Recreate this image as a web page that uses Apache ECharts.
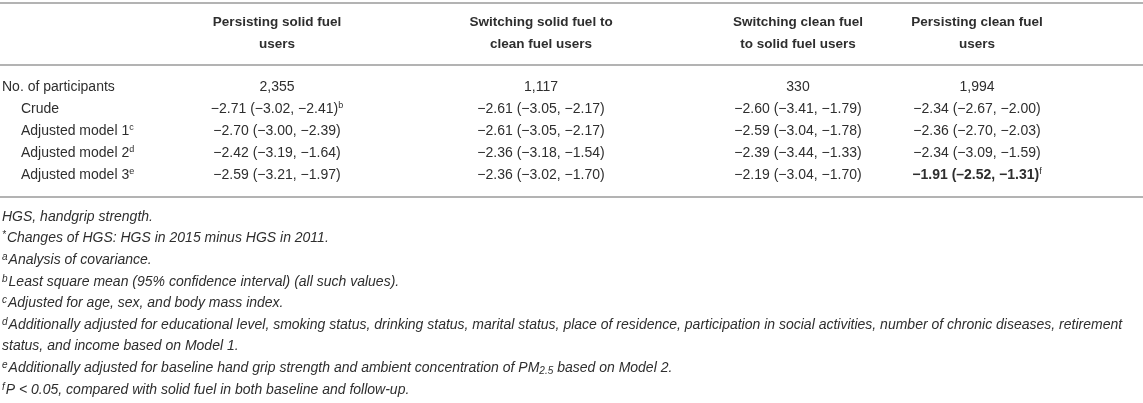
<!DOCTYPE html>
<html style="height: 100%">
<head>
  <meta charset="UTF-8">
  <title>HGS changes table</title>
  <script src="https://cdn.jsdelivr.net/npm/echarts/dist/echarts.min.js"></script>
</head>
<body style="height: 100%; margin: 0; background: #fff">
<div id="main" style="width: 1143px; height: 403px"></div>

<script>
  // table content
  const headerLines = [
    ['Persisting solid fuel', 'users'],
    ['Switching solid fuel to', 'clean fuel users'],
    ['Switching clean fuel', 'to solid fuel users'],
    ['Persisting clean fuel', 'users']
  ];
  const participants = [2355, 1117, 330, 1994];
  const rowLabels = ['Crude', 'Adjusted model 1', 'Adjusted model 2', 'Adjusted model 3'];
  const rowLabelSup = ['', 'c', 'd', 'e'];
  // [mean, lower, upper] per group
  const crude = [[-2.71, -3.02, -2.41], [-2.61, -3.05, -2.17], [-2.60, -3.41, -1.79], [-2.34, -2.67, -2.00]];
  const model1 = [[-2.70, -3.00, -2.39], [-2.61, -3.05, -2.17], [-2.59, -3.04, -1.78], [-2.36, -2.70, -2.03]];
  const model2 = [[-2.42, -3.19, -1.64], [-2.36, -3.18, -1.54], [-2.39, -3.44, -1.33], [-2.34, -3.09, -1.59]];
  const model3 = [[-2.59, -3.21, -1.97], [-2.36, -3.02, -1.70], [-2.19, -3.04, -1.70], [-1.91, -2.52, -1.31]];
  const rowValues = [crude, model1, model2, model3];
  const cellSup = { '0,0': 'b', '3,3': 'f' };
  const boldCells = { '3,3': true };
  const footnotes = [
    '{i|HGS, handgrip strength.}',
    '{s|*}{i|Changes of HGS: HGS in 2015 minus HGS in 2011.}',
    '{s|a}{i|Analysis of covariance.}',
    '{s|b}{i|Least square mean (95% confidence interval) (all such values).}',
    '{s|c}{i|Adjusted for age, sex, and body mass index.}',
    '{s|d}{i|Additionally adjusted for educational level, smoking status, drinking status, marital status, place of residence, participation in social activities, number of chronic diseases, retirement}',
    '{i|status, and income based on Model 1.}',
    '{s|e}{i|Additionally adjusted for baseline hand grip strength and ambient concentration of PM}{sub|2.5}{i| based on Model 2.}',
    '{s|f}{i|P < 0.05, compared with solid fuel in both baseline and follow-up.}'
  ];

  // layout
  const W = 1143, H = 403;
  const colX = [277, 541, 798, 977];
  const labelX = 2, indentX = 21;
  const headerY = [22, 44];
  const bodyTop = 87, bodyPitch = 22;
  const footTop = 217, footPitch = 21.6;
  const ruleY = [3, 65, 197];
  const ink = '#2e2e2e';
  const ruleColor = '#b3b3b3';
  const font = 'Liberation Sans, Arial, Helvetica, sans-serif';

  function fmt(v) {
    return (v < 0 ? '\u2212' : '') + Math.abs(v).toFixed(2);
  }

  const rich = {
    n: { fontSize: 14, lineHeight: 16, fontFamily: font, fill: ink },
    b: { fontSize: 14, lineHeight: 16, fontFamily: font, fill: ink, fontWeight: 'bold' },
    h: { fontSize: 13.5, lineHeight: 16, fontFamily: font, fill: ink, fontWeight: 'bold' },
    sup: { fontSize: 9, lineHeight: 9, fontFamily: font, fill: ink, verticalAlign: 'top' },
    i: { fontSize: 14, lineHeight: 16, fontFamily: font, fill: ink, fontStyle: 'italic' },
    s: { fontSize: 10, lineHeight: 10, fontFamily: font, fill: ink, fontStyle: 'italic', verticalAlign: 'top', padding: [0, 1, 0, 0] },
    sub: { fontSize: 10, lineHeight: 10, fontFamily: font, fill: ink, fontStyle: 'italic', verticalAlign: 'bottom' }
  };

  // build cells
  const cells = [];
  headerLines.forEach((lines, c) => {
    lines.forEach((t, k) => cells.push({ x: colX[c], y: headerY[k], text: '{h|' + t + '}', align: 'center' }));
  });
  cells.push({ x: labelX, y: bodyTop, text: '{n|No. of participants}', align: 'left' });
  participants.forEach((p, c) => {
    cells.push({ x: colX[c], y: bodyTop, text: '{n|' + p.toLocaleString('en-US') + '}', align: 'center' });
  });
  rowLabels.forEach((lab, r) => {
    const y = bodyTop + bodyPitch * (r + 1);
    let t = '{n|' + lab + '}';
    if (rowLabelSup[r]) t += '{sup|' + rowLabelSup[r] + '}';
    cells.push({ x: indentX, y: y, text: t, align: 'left' });
    rowValues[r].forEach((v, c) => {
      const key = r + ',' + c;
      const st = boldCells[key] ? 'b' : 'n';
      const inner = boldCells[key] ? '\u2013' + Math.abs(v[1]).toFixed(2) : fmt(v[1]);
      let s = '{' + st + '|' + fmt(v[0]) + ' (' + inner + ', ' + fmt(v[2]) + ')}';
      if (cellSup[key]) s += '{sup|' + cellSup[key] + '}';
      cells.push({ x: colX[c], y: y, text: s, align: 'center' });
    });
  });
  footnotes.forEach((t, k) => {
    cells.push({ x: labelX, y: footTop + footPitch * k, text: t, align: 'left' });
  });

  const option = {
    animation: false,
    grid: { left: 0, right: 0, top: 0, bottom: 0 },
    xAxis: { type: 'value', min: 0, max: W, show: false },
    yAxis: { type: 'value', min: 0, max: H, inverse: true, show: false },
    series: [
      {
        type: 'custom',
        data: ruleY.map(y => [0, y]),
        renderItem: function (params, api) {
          const a = api.coord([0, api.value(1)]);
          const b = api.coord([W, api.value(1)]);
          return {
            type: 'line',
            shape: { x1: a[0], y1: a[1], x2: b[0], y2: b[1] },
            style: { stroke: ruleColor, lineWidth: 2 }
          };
        }
      },
      {
        type: 'custom',
        data: cells.map(c => [c.x, c.y]),
        renderItem: function (params, api) {
          const cell = cells[params.dataIndex];
          const p = api.coord([api.value(0), api.value(1)]);
          return {
            type: 'text',
            x: p[0],
            y: p[1],
            style: {
              text: cell.text,
              rich: rich,
              align: cell.align,
              verticalAlign: 'middle',
              fill: ink,
              fontFamily: font
            }
          };
        }
      }
    ]
  };

  const chart = echarts.init(document.getElementById('main'));
  chart.setOption(option);
</script>
</body>
</html>
